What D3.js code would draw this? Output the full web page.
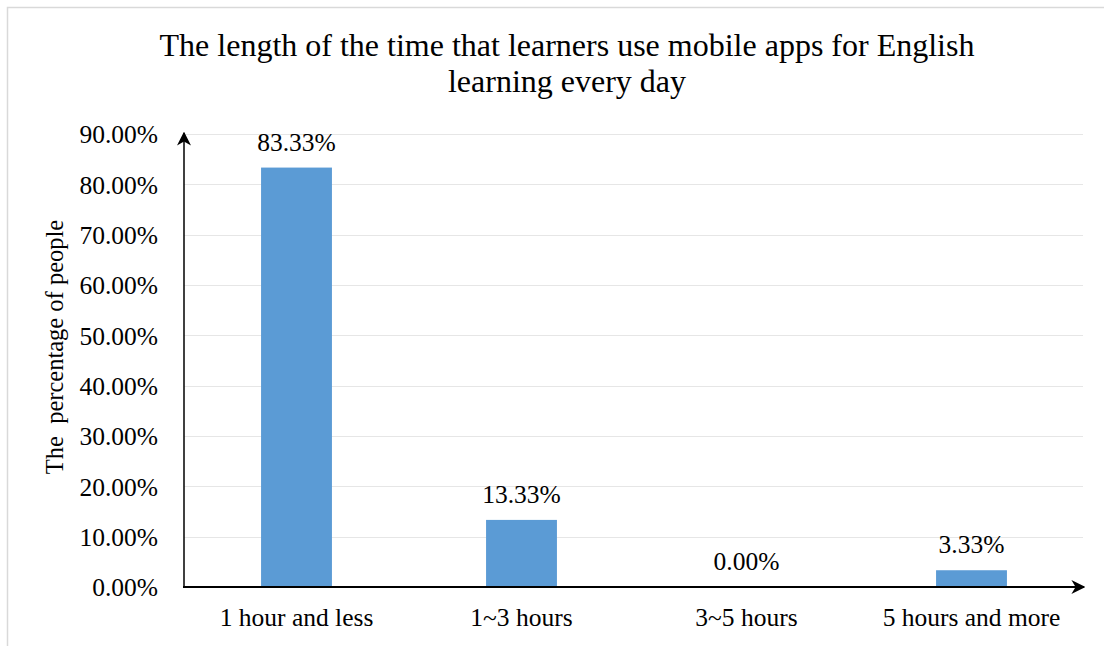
<!DOCTYPE html>
<html>
<head>
<meta charset="utf-8">
<script src="https://cdn.jsdelivr.net/npm/d3@7"></script>
<style>
  body { margin: 0; background: #fff; }
  text { font-family: "Liberation Serif", "Times New Roman", serif; fill: #000; }
</style>
</head>
<body>
<div id="chart"></div>
<script>
var svgWidth = 1104;
var svgHeight = 646;

// data
var categories = ["1 hour and less", "1~3 hours", "3~5 hours", "5 hours and more"];
var percentages = [83.33, 13.33, 0.00, 3.33];
var yTicks = [0, 10, 20, 30, 40, 50, 60, 70, 80, 90];
var titleLines = ["The length of the time that learners use mobile apps for English", "learning every day"];

var margin = { top: 134, bottom: 59, left: 184, right: 20 };
var width = svgWidth - margin.left - margin.right;   // 900
var height = svgHeight - margin.top - margin.bottom;  // 453
var serif = "'Liberation Serif', 'Times New Roman', serif";
var labelSize = "25.5px";

var svg = d3.select("#chart")
    .append("svg")
    .attr("width", svgWidth)
    .attr("height", svgHeight);

// outer frame
svg.append("rect")
    .attr("x", 7.5).attr("y", 7.5)
    .attr("width", svgWidth + 20).attr("height", svgHeight + 20)
    .attr("fill", "none")
    .attr("stroke", "#d9d9d9")
    .attr("stroke-width", 1.5);

// arrow marker
svg.append("defs").append("marker")
    .attr("id", "arrow")
    .attr("viewBox", "0 0 10 10")
    .attr("refX", 9).attr("refY", 5)
    .attr("markerUnits", "userSpaceOnUse")
    .attr("markerWidth", 14).attr("markerHeight", 14)
    .attr("orient", "auto")
    .append("path")
    .attr("d", "M0,0 L10,5 L0,10 L3,5 Z")
    .attr("fill", "#000");

// title
svg.append("text")
    .attr("x", 567)
    .attr("y", 56)
    .attr("text-anchor", "middle")
    .style("font-size", "32px")
    .style("font-family", serif)
    .selectAll("tspan")
    .data(titleLines)
    .enter()
    .append("tspan")
    .attr("x", 567)
    .attr("dy", (d, i) => i === 0 ? 0 : 36)
    .text(d => d);

var chartGroup = svg.append("g")
    .attr("transform", `translate(${margin.left}, ${margin.top})`);

// scales
var xScale = d3.scaleBand()
    .domain(categories)
    .range([0, width])
    .paddingInner(0.685)
    .paddingOuter(0.3425);

var yScale = d3.scaleLinear()
    .domain([0, 90])
    .range([height, 0]);

// gridlines
chartGroup.append("g")
    .selectAll("line")
    .data(yTicks.filter(t => t > 0))
    .enter()
    .append("line")
    .attr("x1", 0)
    .attr("x2", width - 1)
    .attr("y1", d => Math.round(yScale(d)) + 0.5)
    .attr("y2", d => Math.round(yScale(d)) + 0.5)
    .attr("stroke", "#e6e6e6")
    .attr("stroke-width", 1.2);

// bars
chartGroup.selectAll("rect.bar")
    .data(percentages)
    .enter()
    .append("rect")
    .attr("class", "bar")
    .attr("x", (d, i) => xScale(categories[i]))
    .attr("y", d => yScale(d))
    .attr("width", xScale.bandwidth())
    .attr("height", d => height - yScale(d))
    .attr("fill", "#5b9bd5");

// value labels
chartGroup.selectAll("text.value")
    .data(percentages)
    .enter()
    .append("text")
    .attr("class", "value")
    .attr("x", (d, i) => xScale(categories[i]) + xScale.bandwidth() / 2)
    .attr("y", d => yScale(d) - 17)
    .attr("text-anchor", "middle")
    .style("font-size", labelSize)
    .style("font-family", serif)
    .text(d => d.toFixed(2) + "%");

// y axis tick labels
var leftAxis = d3.axisLeft(yScale)
    .tickValues(yTicks)
    .tickSize(0)
    .tickPadding(26)
    .tickFormat(d => d.toFixed(2) + "%");
var yAxisG = chartGroup.append("g").call(leftAxis);
yAxisG.select(".domain").remove();
yAxisG.selectAll("text")
    .attr("dy", "0.35em")
    .style("font-size", labelSize)
    .style("font-family", serif)
    .attr("fill", "#000");

// x axis tick labels
var bottomAxis = d3.axisBottom(xScale).tickSize(0).tickPadding(21);
var xAxisG = chartGroup.append("g")
    .attr("transform", `translate(0, ${height})`)
    .call(bottomAxis);
xAxisG.select(".domain").remove();
xAxisG.selectAll("text")
    .style("font-size", labelSize)
    .style("font-family", serif)
    .attr("fill", "#000");

// axis lines with arrows
chartGroup.append("line")
    .attr("x1", 0).attr("y1", height)
    .attr("x2", 0).attr("y2", -1)
    .attr("stroke", "#000")
    .attr("stroke-width", 1.5)
    .attr("marker-end", "url(#arrow)");

chartGroup.append("line")
    .attr("x1", -1).attr("y1", height)
    .attr("x2", width).attr("y2", height)
    .attr("stroke", "#000")
    .attr("stroke-width", 2)
    .attr("marker-end", "url(#arrow)");

// y axis title
chartGroup.append("text")
    .attr("transform", "rotate(-90)")
    .attr("x", -213)
    .attr("y", -121)
    .attr("text-anchor", "middle")
    .style("font-size", "24.5px")
    .style("font-family", serif)
    .style("white-space", "pre")
    .text("The  percentage of people");
</script>
</body>
</html>
